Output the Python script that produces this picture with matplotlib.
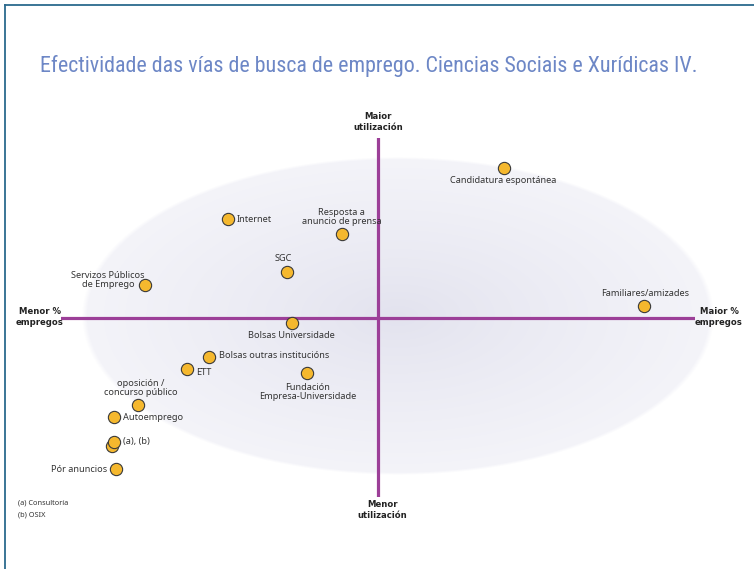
import numpy as np
import matplotlib
matplotlib.use("Agg")
import matplotlib.pyplot as plt
from matplotlib.lines import Line2D

# ---- data (relative position: x = effectiveness, y = utilisation) ----
labels = ["Candidatura espontánea", "Internet", "Resposta a\nanuncio de prensa", "SGC",
          "Servizos Públicos\nde Emprego", "Familiares/amizades", "Bolsas Universidade",
          "Bolsas outras institucións", "ETT", "Fundación\nEmpresa-Universidade",
          "oposición /\nconcurso público", "Autoemprego", "", "(a), (b)", "Pór anuncios"]
x_vals = [39.7, -47.2, -11.4, -28.8, -73.5, 84.0, -27.2, -53.3, -60.3, -22.5,
          -75.6, -83.3, -83.8, -83.3, -82.6]
y_vals = [83.2, 54.8, 46.5, 25.6, 18.3, 6.7, -2.6, -21.5, -28.5, -30.4,
          -48.3, -55.2, -70.9, -68.7, -83.9]
# label placement: (dx px, dy px, ha)
label_pos = [(-1, -12, "center"), (8, 0, "left"), (0, 17, "center"), (-3, 13, "center"),
             (-37, 5, "center"), (1, 12, "center"), (0, -13, "center"),
             (10, 1, "left"), (9, -3, "left"), (1, -19, "center"),
             (2, 17, "center"), (9, 0, "left"), (0, 0, "left"), (9, 0, "left"),
             (-9, 0, "right")]

title = "Efectividade das vías de busca de emprego. Ciencias Sociais e Xurídicas IV."
footnotes = ["(a) Consultoría", "(b) OSIX"]

W, H = 754, 569
fig = plt.figure(figsize=(W / 100, H / 100), dpi=100)
fig.patch.set_facecolor("white")

# background axes in pixel coordinates (top-down)
bg = fig.add_axes([0, 0, 1, 1])
bg.set_xlim(0, W)
bg.set_ylim(H, 0)
bg.axis("off")

# elliptical radial gradient
cx, cy, rx, ry = 398, 316, 316, 159
gx, gy = np.meshgrid(np.arange(W) + 0.5, np.arange(H) + 0.5)
r = np.sqrt(((gx - cx) / rx) ** 2 + ((gy - cy) / ry) ** 2)
c_in = np.array([226, 226, 238]) / 255.0
c_out = np.array([244, 244, 249]) / 255.0
t = (np.clip(r, 0, 1) ** 0.8)[..., None]
img = c_in * (1 - t) + c_out * t
alpha = np.clip((1.0 - r) * 60.0, 0, 1)[..., None]
img = img * alpha + (1 - alpha) * 1.0
bg.imshow(img, extent=[0, W, H, 0], interpolation="bilinear", zorder=0)

# border (top and left)
border_col = "#2b6a8e"
bg.add_line(Line2D([5, W], [5, 5], color=border_col, lw=1.3))
bg.add_line(Line2D([5, 5], [5, H], color=border_col, lw=1.3))

# title
bg.text(40, 66, title, fontsize=15.8, color="#6d87c6", va="center", ha="left",
        family=["Roboto Condensed", "Open Sans Condensed", "Noto Sans", "DejaVu Sans"],
        fontstretch="condensed")

# main axes
left, right, top, bottom = 61, 695, 138, 497
ax = fig.add_axes([left / W, (H - bottom) / H, (right - left) / W, (bottom - top) / H])
ax.set_xlim(-100, 100)
ax.set_ylim(-99.4, 100)
ax.axis("off")
ax.patch.set_alpha(0)

purple = "#9c3f98"
ax.axhline(0, color=purple, lw=2.3, zorder=2)
ax.axvline(0, color=purple, lw=2.3, zorder=2)

lab_font = ["Noto Sans", "DejaVu Sans"]
ax.scatter(x_vals, y_vals, s=78, facecolor="#f5b82e", edgecolor="#3a3a3a",
           linewidths=0.8, zorder=4, clip_on=False)
for lab, xv, yv, (dx, dy, ha) in zip(labels, x_vals, y_vals, label_pos):
    if not lab:
        continue
    ax.annotate(lab, (xv, yv), xytext=(dx, dy), textcoords="offset pixels",
                ha=ha, va="center", fontsize=6.6, color="#333333",
                family=lab_font, linespacing=1.0, multialignment="center", zorder=5)

# axis end labels
bold = dict(fontsize=6.1, fontweight="bold", color="#222222", family="DejaVu Sans",
            linespacing=1.15, ha="center", va="center")
bg.text(378, 122, "Maior\nutilización", **bold)
bg.text(382, 510, "Menor\nutilización", **bold)
bg.text(40, 317, "Menor %\nempregos", **bold)
bg.text(719, 317, "Maior %\nempregos", **bold)

# footnotes
bg.text(18, 503, footnotes[0], fontsize=5.3, color="#333333", family=lab_font, va="center")
bg.text(18, 515, footnotes[1], fontsize=5.3, color="#333333", family=lab_font, va="center")

fig.savefig("out.png", dpi=100, facecolor="white")
